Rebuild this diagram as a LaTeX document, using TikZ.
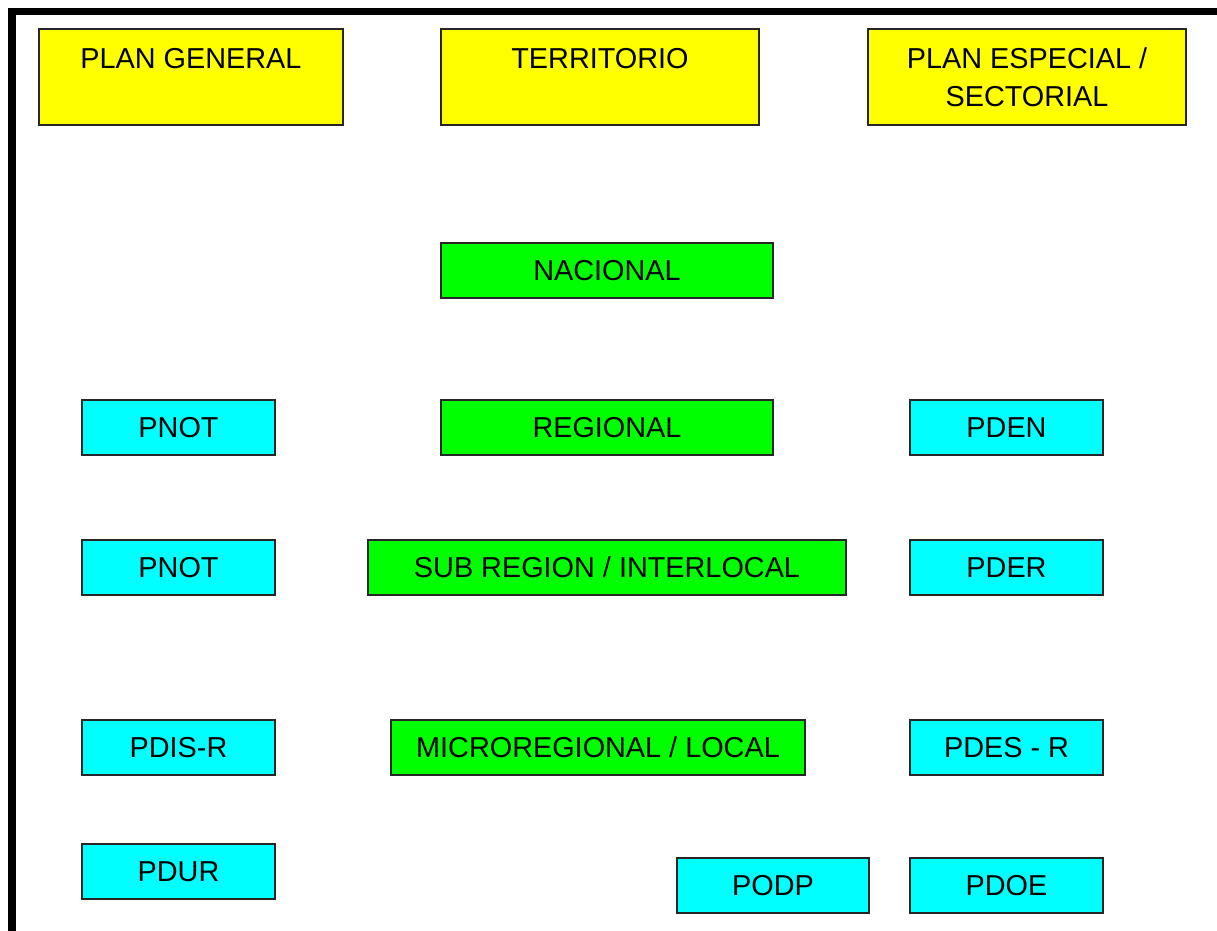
\documentclass[tikz,border=0pt]{standalone}
\usepackage{fontspec}
\setmainfont{Liberation Sans}
\definecolor{boxyellow}{RGB}{255,255,0}
\definecolor{boxgreen}{RGB}{0,255,0}
\definecolor{boxcyan}{RGB}{0,255,255}

\begin{document}
\begin{tikzpicture}
  [x=0.025cm,y=-0.025cm,
   every node/.style={draw=black!85,line width=1pt,rectangle,inner sep=0pt,
     font=\fontsize{20.5}{27}\selectfont,text height=14.7pt,text depth=0pt},
   yellowbox/.style={fill=boxyellow,minimum width=#1,minimum height=2.4cm,
     align=center,text depth=27pt},
   greenbox/.style={fill=boxgreen,minimum width=#1,minimum height=1.375cm},
   cyanbox/.style={fill=boxcyan,minimum width=4.825cm,minimum height=1.375cm}]
  \clip (0,0) rectangle (1217,931);
  \fill[white] (0,0) rectangle (1217,931);
  \draw[line width=0.175cm] (12,12) rectangle (1260,980);
  % top row
  \node[yellowbox=7.6cm] (pg) at (191,77) {PLAN GENERAL};
  \node[yellowbox=7.95cm] (terr) at (600,77) {TERRITORIO};
  \node[yellowbox=7.95cm,text height=41.7pt,text depth=0pt] (pe) at (1027,77)
    {PLAN ESPECIAL /\\SECTORIAL};
  % levels
  \node[greenbox=8.3cm] (nac) at (607,270.5) {NACIONAL};
  \node[greenbox=8.3cm] (reg) at (607,427.5) {REGIONAL};
  \node[greenbox=11.95cm] (sub) at (607,567.5) {SUB REGION / INTERLOCAL};
  \node[greenbox=10.35cm] (mic) at (598,747.5) {MICROREGIONAL / LOCAL};
  % plans
  \node[cyanbox] (pnot1) at (178.5,427.5) {PNOT};
  \node[cyanbox] (pnot2) at (178.5,567.5) {PNOT};
  \node[cyanbox] (pdisr) at (178.5,747.5) {PDIS-R};
  \node[cyanbox] (pdur) at (178.5,871.5) {PDUR};
  \node[cyanbox] (pden) at (1006.5,427.5) {PDEN};
  \node[cyanbox] (pder) at (1006.5,567.5) {PDER};
  \node[cyanbox] (pdesr) at (1006.5,747.5) {PDES - R};
  \node[cyanbox] (pdoe) at (1006.5,885.5) {PDOE};
  \node[cyanbox,minimum width=4.8cm] (podp) at (773,885.5) {PODP};
\end{tikzpicture}
\end{document}
